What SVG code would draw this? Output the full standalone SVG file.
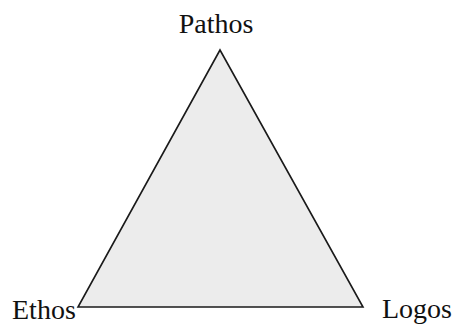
<svg xmlns="http://www.w3.org/2000/svg" width="461" height="326" viewBox="0 0 461 326">
<style>
.lbl{font-family:"Liberation Serif","Times New Roman",serif;font-size:28px;fill:#111}
</style>
<rect width="461" height="326" fill="#fff"/>
<g id="connectors">
<polygon points="220,50 78,307 363,307" fill="#ececec" stroke="#1a1a1a" stroke-width="1.6" stroke-linejoin="miter"/>
</g>
<g id="pathos"><text class="lbl" x="216" y="33" text-anchor="middle">Pathos</text></g>
<g id="ethos"><text class="lbl" x="12" y="319">Ethos</text></g>
<g id="logos"><text class="lbl" x="382" y="318">Logos</text></g>
</svg>
